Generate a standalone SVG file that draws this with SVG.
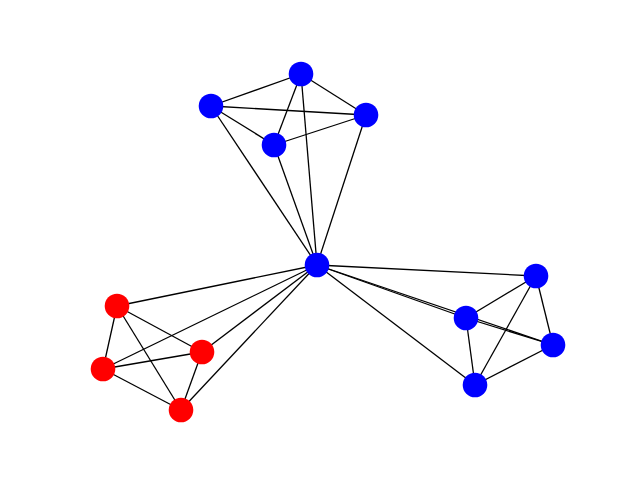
<svg xmlns="http://www.w3.org/2000/svg" width="640" height="480" viewBox="0 0 640 480">
<style>
.e{stroke:#000;stroke-width:1.3;fill:none}
.b{fill:#0000ff}
.r{fill:#ff0000}
</style>
<rect width="640" height="480" fill="#fff"/>
<g id="edges" class="e">
<line x1="317" y1="265" x2="211" y2="106"/>
<line x1="317" y1="265" x2="301" y2="74"/>
<line x1="317" y1="265" x2="366" y2="115"/>
<line x1="317" y1="265" x2="274" y2="145"/>
<line x1="211" y1="106" x2="301" y2="74"/>
<line x1="211" y1="106" x2="366" y2="115"/>
<line x1="211" y1="106" x2="274" y2="145"/>
<line x1="301" y1="74" x2="366" y2="115"/>
<line x1="301" y1="74" x2="274" y2="145"/>
<line x1="274" y1="145" x2="366" y2="115"/>
<line x1="317" y1="265" x2="536" y2="276"/>
<line x1="317" y1="265" x2="466" y2="318"/>
<line x1="317" y1="265" x2="553" y2="345"/>
<line x1="317" y1="265" x2="475" y2="385"/>
<line x1="536" y1="276" x2="466" y2="318"/>
<line x1="536" y1="276" x2="553" y2="345"/>
<line x1="536" y1="276" x2="475" y2="385"/>
<line x1="466" y1="318" x2="553" y2="345"/>
<line x1="466" y1="318" x2="475" y2="385"/>
<line x1="553" y1="345" x2="475" y2="385"/>
<line x1="317" y1="265" x2="117" y2="306"/>
<line x1="317" y1="265" x2="202" y2="352"/>
<line x1="317" y1="265" x2="103" y2="369"/>
<line x1="317" y1="265" x2="181" y2="410"/>
<line x1="117" y1="306" x2="202" y2="352"/>
<line x1="117" y1="306" x2="103" y2="369"/>
<line x1="117" y1="306" x2="181" y2="410"/>
<line x1="103" y1="369" x2="202" y2="352"/>
<line x1="103" y1="369" x2="181" y2="410"/>
<line x1="202" y1="352" x2="181" y2="410"/>
</g>
<g id="n0"><circle class="b" cx="317" cy="265" r="12.3"/></g>
<g id="n1"><circle class="b" cx="301" cy="74" r="12.3"/></g>
<g id="n2"><circle class="b" cx="211" cy="106" r="12.3"/></g>
<g id="n3"><circle class="b" cx="366" cy="115" r="12.3"/></g>
<g id="n4"><circle class="b" cx="274" cy="145" r="12.3"/></g>
<g id="n5"><circle class="b" cx="536" cy="276" r="12.3"/></g>
<g id="n6"><circle class="b" cx="466" cy="318" r="12.3"/></g>
<g id="n7"><circle class="b" cx="553" cy="345" r="12.3"/></g>
<g id="n8"><circle class="b" cx="475" cy="385" r="12.3"/></g>
<g id="n9"><circle class="r" cx="117" cy="306" r="12.3"/></g>
<g id="n10"><circle class="r" cx="202" cy="352" r="12.3"/></g>
<g id="n11"><circle class="r" cx="103" cy="369" r="12.3"/></g>
<g id="n12"><circle class="r" cx="181" cy="410" r="12.3"/></g>
</svg>
